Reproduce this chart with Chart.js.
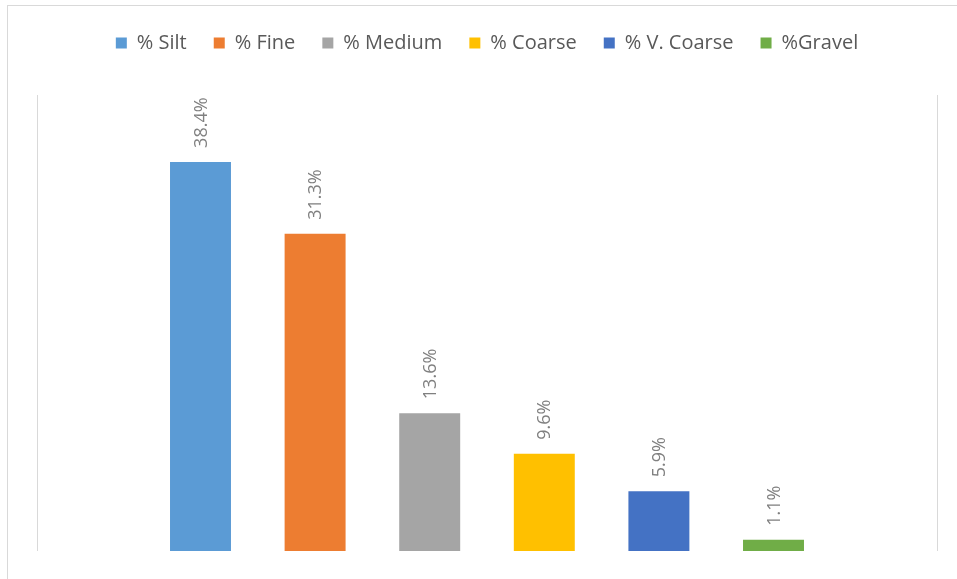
<!DOCTYPE html>
<html>
<head>
<meta charset="utf-8">
<script src="https://cdn.jsdelivr.net/npm/chart.js@4/dist/chart.umd.min.js"></script>
<style>
  html, body { margin: 0; padding: 0; background: #fff; }
  #wrap { position: relative; width: 957px; height: 579px; overflow: hidden; }
  #frame { position: absolute; left: 7px; top: 5px; width: 1000px; height: 1000px; border-left: 1px solid #d9d9d9; border-top: 1px solid #d9d9d9; box-sizing: border-box; }
  canvas { position: absolute; left: 0; top: 0; }
</style>
</head>
<body>
<div id="wrap">
  <div id="frame"></div>
  <canvas id="c" width="957" height="579"></canvas>
</div>
<script>
const seriesNames = ['% Silt', '% Fine', '% Medium', '% Coarse', '% V. Coarse', '%Gravel'];
const seriesValues = [38.4, 31.3, 13.6, 9.6, 5.9, 1.1];
const seriesColors = ['#5b9bd5', '#ed7d31', '#a5a5a5', '#ffc000', '#4472c4', '#70ad47'];
const categories = [''];

const FONT = "'Open Sans', 'Noto Sans', sans-serif";

const labelPlugin = {
  id: 'barLabels',
  afterDatasetsDraw(chart) {
    const ctx = chart.ctx;
    ctx.save();
    ctx.fillStyle = '#808080';
    ctx.font = '18px ' + FONT;
    ctx.textAlign = 'left';
    ctx.textBaseline = 'middle';
    chart.data.datasets.forEach((ds, i) => {
      const meta = chart.getDatasetMeta(i);
      meta.data.forEach((el, j) => {
        const v = ds.data[j];
        ctx.save();
        ctx.translate(el.x + 1, el.y - 14);
        ctx.rotate(-Math.PI / 2);
        ctx.fillText(v.toFixed(1) + '%', 0, 0);
        ctx.restore();
      });
    });
    ctx.restore();
  }
};

const legendSpace = {
  id: 'legendSpace',
  beforeInit(chart) {
    const origFit = chart.legend.fit;
    chart.legend.fit = function () {
      origFit.call(this);
      this.height += 32;
    };
  }
};

new Chart(document.getElementById('c'), {
  type: 'bar',
  data: {
    labels: categories,
    datasets: seriesNames.map((n, i) => ({
      label: n,
      data: [seriesValues[i]],
      backgroundColor: seriesColors[i],
      borderWidth: 0,
      categoryPercentage: 0.764,
      barPercentage: 0.532
    }))
  },
  options: {
    responsive: false,
    animation: false,
    devicePixelRatio: 1,
    layout: { padding: { left: 37, right: 20, top: 6, bottom: 28 } },
    plugins: {
      legend: {
        display: true,
        position: 'top',
        labels: {
          boxWidth: 11,
          boxHeight: 11,
          padding: 27,
          color: '#595959',
          font: { family: FONT, size: 20 }
        }
      },
      tooltip: { enabled: false }
    },
    scales: {
      x: {
        offset: true,
        ticks: { display: false },
        grid: { display: true, color: '#d9d9d9', lineWidth: 1, offset: true, drawTicks: false },
        border: { display: false }
      },
      y: {
        display: false,
        min: 0,
        max: 45
      }
    }
  },
  plugins: [labelPlugin, legendSpace]
});
</script>
</body>
</html>
